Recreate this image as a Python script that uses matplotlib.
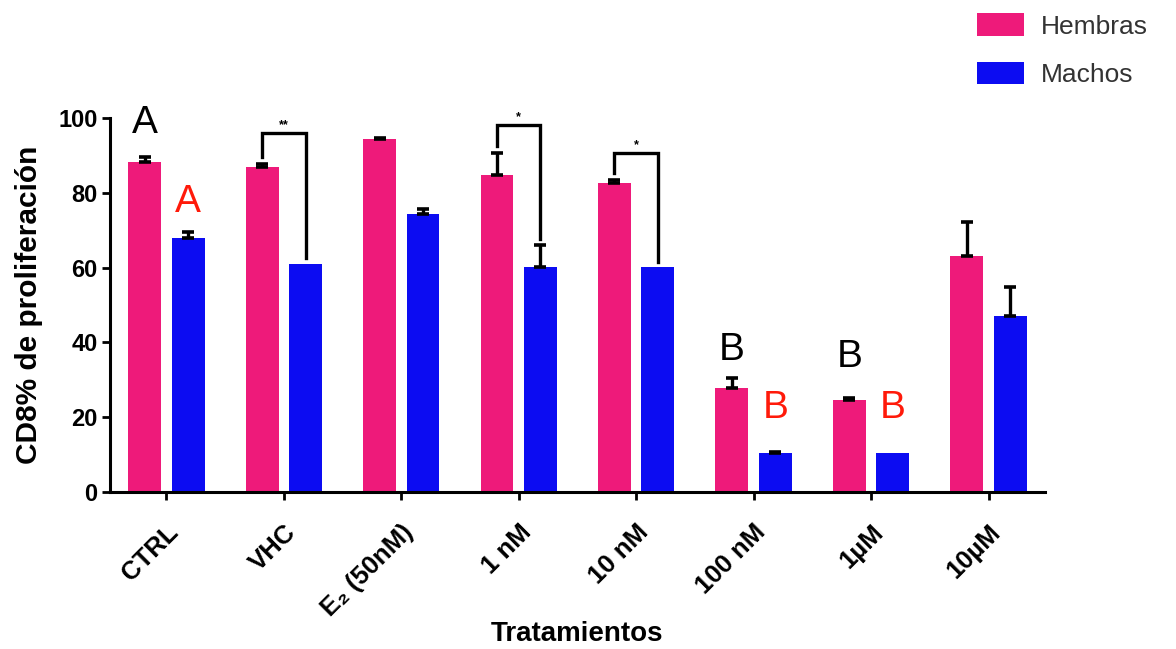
import matplotlib
matplotlib.use('Agg')
import matplotlib.pyplot as plt
import matplotlib.transforms as mtransforms
import numpy as np
from matplotlib.patches import Patch

plt.rcParams['font.family'] = ['Liberation Sans', 'DejaVu Sans']

# tratamientos y % de proliferacion CD8 (media, error)
tratamientos = ['CTRL', 'VHC', 'E₂ (50nM)', '1 nM', '10 nM', '100 nM', '1µM', '10µM']
hembras = [88.3, 86.8, 94.3, 84.8, 82.7, 27.7, 24.6, 63.1]
hembras_err = [1.3, 0.8, 0.4, 5.8, 0.6, 2.7, 0.6, 9.2]
machos = [67.8, 61.0, 74.3, 60.1, 60.1, 10.5, 10.5, 47.1]
machos_err = [1.6, 0.0, 1.5, 6.0, 0.0, 0.3, 0.0, 7.8]

# comparaciones hembras vs machos: (grupo, altura del corchete, marca)
comparaciones = [(1, 95.9, '**'), (3, 98.1, '*'), (4, 90.6, '*')]
# letras de grupos: (grupo, serie, altura, letra)
letras = [(0, 'h', 98.7, 'A'), (0, 'm', 77.6, 'A'),
          (5, 'h', 38.0, 'B'), (5, 'm', 22.5, 'B'),
          (6, 'h', 36.0, 'B'), (6, 'm', 22.5, 'B')]

rosa = '#EE1A7A'
azul = '#0C0CF2'

fig = plt.figure(figsize=(11.76, 6.49), dpi=100)
ax = fig.add_axes([0.0935, 0.2419, 0.7951, 0.5763])

x = np.arange(len(tratamientos))
w = 0.28
off = 0.185
xh = x - off
xm = x + off

ax.bar(xh, hembras, w, color=rosa, zorder=2)
ax.bar(xm, machos, w, color=azul, zorder=2)

# barras de error solo hacia arriba
for xs, vals, errs in [(xh, hembras, hembras_err), (xm, machos, machos_err)]:
    for xi, v, e in zip(xs, vals, errs):
        if e > 0:
            ax.errorbar(xi, v, yerr=[[0], [e]], fmt='none', ecolor='black',
                        elinewidth=2.4, capsize=4.5, capthick=2.6, zorder=3)

# corchetes de significancia
for g, top, mark in comparaciones:
    y1 = hembras[g] + hembras_err[g] + 2.0
    y2 = machos[g] + machos_err[g] + 1.5
    ax.plot([xh[g], xh[g], xm[g], xm[g]], [y1, top, top, y2], color='black',
            lw=2.4, clip_on=False, zorder=4, solid_joinstyle='miter')
    ax.text((xh[g] + xm[g]) / 2, top + 0.6, mark, ha='center', va='bottom',
            fontsize=9, fontweight='bold', clip_on=False)

for g, serie, yy, letra in letras:
    xx = xh[g] if serie == 'h' else xm[g]
    col = 'black' if serie == 'h' else '#FF1A0A'
    ax.text(xx, yy, letra, ha='center', va='center', fontsize=28,
            color=col, clip_on=False)

ax.set_xlim(-0.48, 7.48)
ax.set_ylim(0, 100)
ax.set_yticks([0, 20, 40, 60, 80, 100])
ax.set_xticks(x)
ax.set_xticklabels(tratamientos, rotation=45, ha='right', rotation_mode='anchor',
                   fontsize=18.5, fontweight='bold')
# correr las etiquetas un poco a la izquierda
shift = mtransforms.ScaledTranslation(-6 / 100, 0, fig.dpi_scale_trans)
for lbl in ax.get_xticklabels():
    lbl.set_transform(lbl.get_transform() + shift)
for lbl in ax.get_yticklabels():
    lbl.set_fontweight('bold')
    lbl.set_fontsize(17)

for s in ['top', 'right']:
    ax.spines[s].set_visible(False)
for s in ['left', 'bottom']:
    ax.spines[s].set_linewidth(2.2)
ax.tick_params(axis='both', width=2.0, length=6, pad=3)
ax.tick_params(axis='x', pad=14)

ax.set_ylabel('CD8% de proliferación', fontsize=21.5, fontweight='bold')
ax.yaxis.set_label_coords(-0.072, 0.5)
ax.set_xlabel('Tratamientos', fontsize=20, fontweight='bold')
ax.xaxis.set_label_coords(0.5, -0.345)

handles = [Patch(facecolor=rosa, label='Hembras'), Patch(facecolor=azul, label='Machos')]
fig.legend(handles=handles, loc='upper left', bbox_to_anchor=(0.811, 1.016),
           frameon=False, fontsize=19, handlelength=1.77, handleheight=0.92,
           handletextpad=0.65, labelspacing=0.88, labelcolor='#333333')

fig.savefig('out.png', dpi=100)
